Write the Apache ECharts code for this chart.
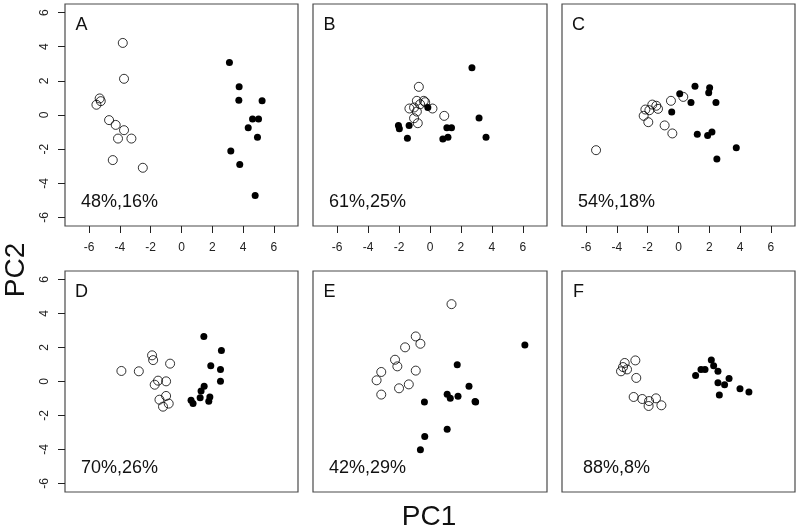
<!DOCTYPE html>
<html>
<head>
<meta charset="utf-8">
<script src="https://cdn.jsdelivr.net/npm/echarts@6/dist/echarts.min.js"></script>
<style>
html,body{margin:0;padding:0;background:#fff;}
#chart{width:800px;height:531px;}
</style>
</head>
<body>
<div id="chart"></div>
<script>
// ---- data ----
const xTicks = [-6, -4, -2, 0, 2, 4, 6];
const yTicks = [-6, -4, -2, 0, 2, 4, 6];
const panelLetters = ['A', 'B', 'C', 'D', 'E', 'F'];
const varianceLabels = ['48%,16%', '61%,25%', '54%,18%', '70%,26%', '42%,29%', '88%,8%'];

const openA = [[-3.81,4.22],[-3.73,2.12],[-5.31,0.97],[-5.24,0.81],[-5.52,0.60],[-4.70,-0.30],[-4.27,-0.58],[-3.73,-0.89],[-4.12,-1.38],[-3.25,-1.38],[-4.46,-2.64],[-2.51,-3.09]];
const filledA = [[3.11,3.07],[3.74,1.65],[3.72,0.87],[5.23,0.83],[4.61,-0.24],[5.00,-0.24],[4.33,-0.75],[4.93,-1.30],[3.20,-2.11],[3.78,-2.90],[4.78,-4.71]];

const openB = [[-0.72,1.65],[-0.85,0.83],[-0.40,0.83],[-0.31,0.75],[-1.33,0.38],[-1.03,0.44],[-0.85,0.20],[0.16,0.38],[-1.03,-0.19],[-0.79,-0.48],[0.92,-0.05],[-0.64,0.63]];
const filledB = [[2.71,2.76],[-0.14,0.44],[3.17,-0.17],[-2.04,-0.61],[-1.98,-0.81],[-1.35,-0.61],[1.09,-0.75],[1.39,-0.75],[-1.46,-1.36],[0.83,-1.41],[1.16,-1.30],[3.62,-1.30]];

const openC = [[-5.35,-2.06],[-0.49,0.83],[0.31,1.06],[-1.70,0.61],[-1.44,0.54],[-1.33,0.36],[-2.15,0.32],[-1.89,0.28],[-2.26,-0.05],[-1.96,-0.42],[-0.90,-0.61],[-0.40,-1.08]];
const filledC = [[1.07,1.69],[2.02,1.59],[1.96,1.30],[0.08,1.24],[0.81,0.73],[2.43,0.73],[-0.44,0.17],[1.22,-1.12],[1.89,-1.20],[2.17,-0.99],[3.75,-1.92],[2.49,-2.57]];

const openD = [[-3.90,0.62],[-2.77,0.60],[-1.91,1.54],[-1.84,1.26],[-0.74,1.05],[-1.52,0.05],[-1.00,0.01],[-1.74,-0.19],[-1.00,-0.85],[-1.43,-1.07],[-0.83,-1.30],[-1.20,-1.48]];
const filledD = [[1.45,2.65],[2.59,1.83],[1.90,0.93],[2.53,0.71],[2.53,0.01],[1.47,-0.28],[1.27,-0.56],[0.62,-1.11],[0.75,-1.30],[1.21,-0.95],[1.84,-0.91],[1.77,-1.16]];

const openE = [[1.39,4.55],[-0.92,2.65],[-0.62,2.22],[-1.61,2.01],[-2.26,1.28],[-2.11,0.89],[-3.15,0.56],[-3.45,0.07],[-0.92,0.64],[-1.37,-0.17],[-2.00,-0.40],[-3.15,-0.77]];
const filledE = [[6.13,2.14],[1.76,0.99],[2.52,-0.28],[1.11,-0.75],[1.31,-0.99],[1.81,-0.87],[2.91,-1.17],[2.95,-1.20],[-0.36,-1.21],[1.11,-2.81],[-0.34,-3.24],[-0.62,-4.02]];

const openF = [[-3.49,1.09],[-2.80,1.24],[-3.60,0.85],[-3.34,0.71],[-3.73,0.60],[-2.74,0.21],[-2.91,-0.91],[-2.35,-1.03],[-1.91,-1.15],[-1.94,-1.44],[-1.46,-0.99],[-1.11,-1.40]];
const filledF = [[2.13,1.26],[2.28,0.93],[1.46,0.70],[1.72,0.70],[2.56,0.60],[1.11,0.36],[3.28,0.17],[2.56,-0.07],[2.99,-0.19],[3.99,-0.42],[4.57,-0.62],[2.65,-0.79]];

const openSets = [openA, openB, openC, openD, openE, openF];
const filledSets = [filledA, filledB, filledC, filledD, filledE, filledF];

// ---- layout ----
const FONT = '"Liberation Sans", Arial, Helvetica, sans-serif';
const cols = [{left: 65, width: 233}, {left: 313, width: 234}, {left: 562, width: 233}];
const rows = [{top: 4, height: 222}, {top: 271, height: 221}];
const XLIM = 7.56, YLIM = 6.5;

const grids = [], xAxes = [], yAxes = [], series = [], graphics = [];

for (let i = 0; i < 6; i++) {
  const r = Math.floor(i / 3), c = i % 3;
  const g = {left: cols[c].left, top: rows[r].top, width: cols[c].width, height: rows[r].height};
  grids.push(Object.assign({show: true, borderColor: '#4a4a4a', borderWidth: 1.2, backgroundColor: 'transparent'}, g));
  const showX = (r === 0);
  const showY = (c === 0);
  xAxes.push({
    gridIndex: i, type: 'value', min: -XLIM, max: XLIM, position: 'bottom',
    axisLine: {show: false, onZero: false},
    splitLine: {show: false},
    axisTick: {show: showX, customValues: xTicks, length: 7, inside: false, lineStyle: {color: '#222', width: 1}},
    axisLabel: {show: showX, customValues: xTicks, margin: 16, color: '#222', fontSize: 12, fontFamily: FONT}
  });
  yAxes.push({
    gridIndex: i, type: 'value', min: -YLIM, max: YLIM, position: 'left',
    axisLine: {show: false, onZero: false},
    splitLine: {show: false},
    axisTick: {show: showY, customValues: yTicks, length: 7, inside: false, lineStyle: {color: '#222', width: 1}},
    axisLabel: {show: showY, customValues: yTicks, margin: 14, rotate: 90, color: '#222', fontSize: 12, fontFamily: FONT}
  });
  series.push({
    type: 'scatter', xAxisIndex: i, yAxisIndex: i, data: openSets[i],
    symbol: 'circle', symbolSize: 9,
    itemStyle: {color: 'rgba(0,0,0,0)', borderColor: '#000', borderWidth: 1},
    silent: true
  });
  series.push({
    type: 'scatter', xAxisIndex: i, yAxisIndex: i, data: filledSets[i],
    symbol: 'circle', symbolSize: 7,
    itemStyle: {color: '#000', borderWidth: 0, opacity: 1},
    silent: true
  });
  graphics.push({
    type: 'text', x: g.left + 16.5, y: g.top + 21.5,
    style: {text: panelLetters[i], font: '18px ' + FONT, fill: '#111', align: 'center', verticalAlign: 'middle'}
  });
  graphics.push({
    type: 'text', x: g.left + 54.5, y: g.top + g.height - 23.5,
    style: {text: varianceLabels[i], font: '18px ' + FONT, fill: '#111', align: 'center', verticalAlign: 'middle'}
  });
}

graphics.push({
  type: 'text', x: 429, y: 517,
  style: {text: 'PC1', font: '28px ' + FONT, fill: '#111', align: 'center', verticalAlign: 'middle'}
});
graphics.push({
  type: 'text', x: 16, y: 270, rotation: Math.PI / 2,
  style: {text: 'PC2', font: '28px ' + FONT, fill: '#111', align: 'center', verticalAlign: 'middle'}
});

const chart = echarts.init(document.getElementById('chart'), null, {renderer: 'canvas'});
chart.setOption({
  animation: false,
  backgroundColor: '#fff',
  grid: grids,
  xAxis: xAxes,
  yAxis: yAxes,
  series: series,
  graphic: graphics
});
</script>
</body>
</html>
